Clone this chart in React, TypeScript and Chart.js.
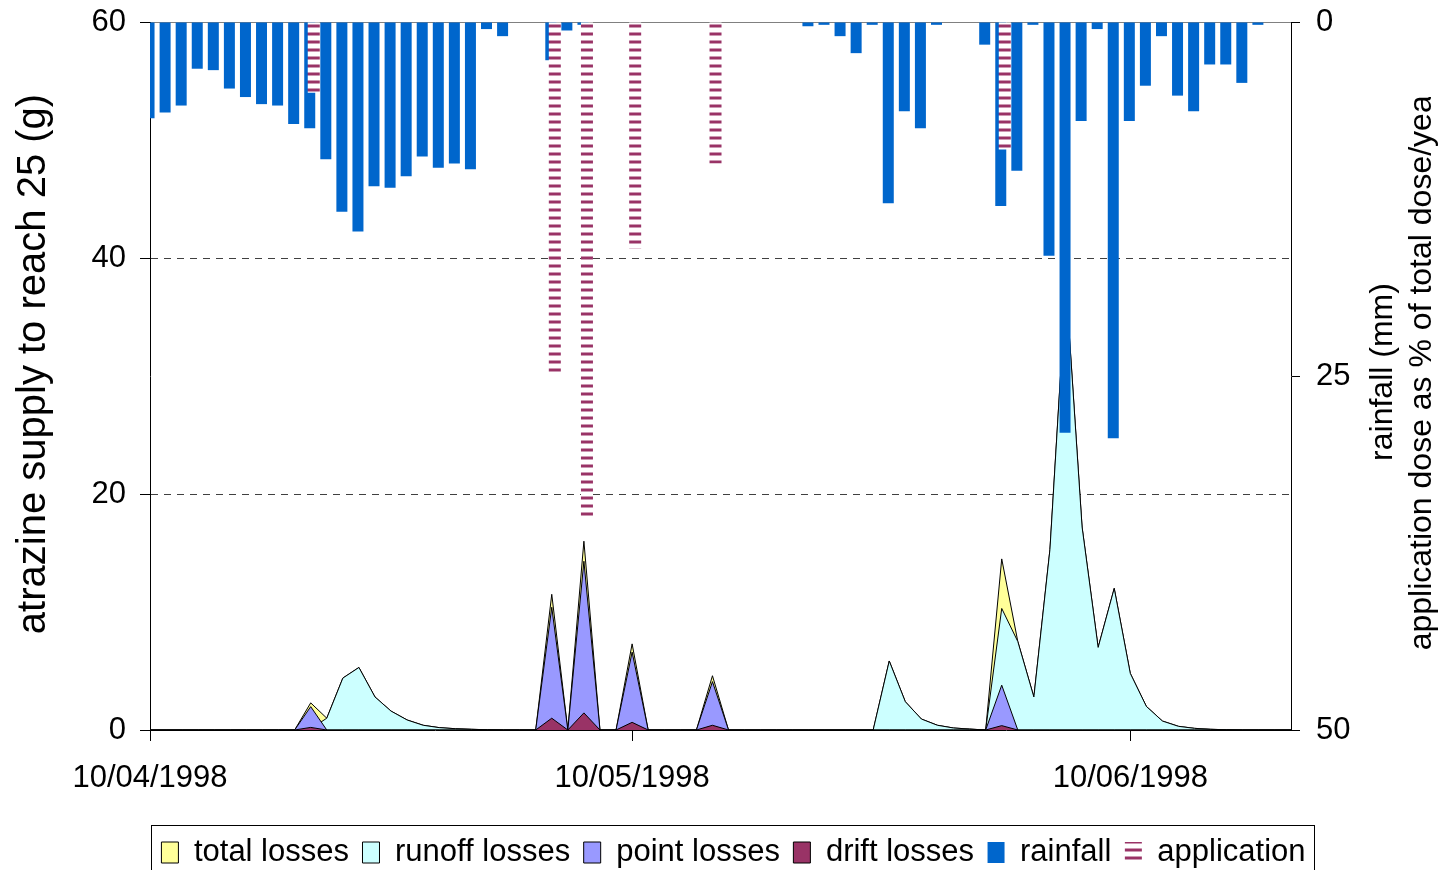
import { useEffect, useRef } from 'react';
import { Chart, registerables } from 'chart.js';

Chart.register(...registerables);

const FONT = "'Liberation Sans', Arial, Helvetica, sans-serif";

// Day index from 10/04/1998 (one point per day)
const days = Array.from({ length: 72 }, (_, i) => i);
const xTickDays = [0, 30, 61];
const xTickLabels = ['10/04/1998', '10/05/1998', '10/06/1998'];

const leftTitle = 'atrazine supply to reach 25 (g)';
const rightTitle = ['rainfall (mm)', 'application dose as % of total dose/year'];
const seriesNames = ['total losses', 'runoff losses', 'point losses', 'drift losses', 'rainfall', 'application'];

// g
const totalLosses = [
  0, 0, 0, 0, 0, 0, 0, 0, 0, 0,
  2.3, 1.0, 4.4, 5.3, 2.8, 1.6, 0.85, 0.4, 0.2, 0.11,
  0.06, 0.02, 0, 0, 0, 11.5, 0, 16.0, 0, 0,
  7.3, 0, 0, 0, 0, 4.6, 0, 0, 0, 0,
  0, 0, 0, 0, 0, 0, 5.85, 2.4, 0.93, 0.4,
  0.17, 0.08, 0, 14.5, 7.5, 2.8, 15.3, 37.7, 17.2, 7.0,
  12.0, 4.8, 2.0, 0.76, 0.31, 0.14, 0.06, 0.02, 0, 0,
  0, 0,
];
const runoffLosses = [
  0, 0, 0, 0, 0, 0, 0, 0, 0, 0,
  0.1, 1.0, 4.4, 5.3, 2.8, 1.6, 0.85, 0.4, 0.2, 0.11,
  0.06, 0.02, 0, 0, 0, 0, 0, 0, 0, 0,
  0, 0, 0, 0, 0, 0, 0, 0, 0, 0,
  0, 0, 0, 0, 0, 0, 5.85, 2.4, 0.93, 0.4,
  0.17, 0.08, 0, 10.3, 7.5, 2.8, 15.3, 37.7, 17.2, 7.0,
  12.0, 4.8, 2.0, 0.76, 0.31, 0.14, 0.06, 0.02, 0, 0,
  0, 0,
];
const pointLosses = [
  0, 0, 0, 0, 0, 0, 0, 0, 0, 0,
  1.98, 0, 0, 0, 0, 0, 0, 0, 0, 0,
  0, 0, 0, 0, 0, 10.4, 0, 14.3, 0, 0,
  6.6, 0, 0, 0, 0, 4.1, 0, 0, 0, 0,
  0, 0, 0, 0, 0, 0, 0, 0, 0, 0,
  0, 0, 0, 3.8, 0, 0, 0, 0, 0, 0,
  0, 0, 0, 0, 0, 0, 0, 0, 0, 0,
  0, 0,
];
const driftLosses = [
  0, 0, 0, 0, 0, 0, 0, 0, 0, 0,
  0.22, 0, 0, 0, 0, 0, 0, 0, 0, 0,
  0, 0, 0, 0, 0, 1.0, 0, 1.45, 0, 0,
  0.65, 0, 0, 0, 0, 0.4, 0, 0, 0, 0,
  0, 0, 0, 0, 0, 0, 0, 0, 0, 0,
  0, 0, 0, 0.37, 0, 0, 0, 0, 0, 0,
  0, 0, 0, 0, 0, 0, 0, 0, 0, 0,
  0, 0,
];
// mm
const rainfall = [
  6.8, 6.4, 5.9, 3.3, 3.4, 4.7, 5.3, 5.8, 5.9, 7.2,
  7.5, 9.7, 13.4, 14.8, 11.6, 11.7, 10.9, 9.5, 10.3, 10.0,
  10.4, 0.5, 1.0, 0, 0, 2.7, 0.6, 0.2, 0, 0,
  0, 0, 0, 0, 0, 0, 0, 0, 0, 0,
  0, 0.3, 0.2, 1.0, 2.2, 0.2, 12.8, 6.3, 7.5, 0.2,
  0, 0, 1.6, 13.0, 10.5, 0.2, 16.5, 29.0, 7.0, 0.5,
  29.4, 7.0, 4.5, 1.0, 5.2, 6.3, 3.0, 3.0, 4.3, 0.2,
  0, 0,
];
// % of total dose / year
const application = [
  0, 0, 0, 0, 0, 0, 0, 0, 0, 0,
  5, 0, 0, 0, 0, 0, 0, 0, 0, 0,
  0, 0, 0, 0, 0, 25, 0, 35, 0, 0,
  16, 0, 0, 0, 0, 10, 0, 0, 0, 0,
  0, 0, 0, 0, 0, 0, 0, 0, 0, 0,
  0, 0, 0, 9, 0, 0, 0, 0, 0, 0,
  0, 0, 0, 0, 0, 0, 0, 0, 0, 0,
  0, 0,
];

function makeStripePattern(ctx: CanvasRenderingContext2D): CanvasPattern | string {
  const c = document.createElement('canvas');
  c.width = 12;
  c.height = 8;
  const p = c.getContext('2d');
  if (!p) return '#993366';
  p.fillStyle = '#ffffff';
  p.fillRect(0, 0, 12, 8);
  p.fillStyle = '#cc99b3';
  p.fillRect(0, 0, 12, 1);
  p.fillRect(0, 3, 12, 1);
  p.fillStyle = '#993366';
  p.fillRect(0, 1, 12, 2);
  return ctx.createPattern(c, 'repeat') || '#993366';
}

const decorPlugin = {
  id: 'decor',
  afterLayout(chart: any) {
    const lg = chart.legend;
    if (lg) {
      lg.top += 8;
      lg.bottom += 8;
      lg.left += 12;
      lg.right += 12;
    }
  },
  afterDraw(chart: any) {
    const ctx: CanvasRenderingContext2D = chart.ctx;
    const lg = chart.legend;
    const hb = lg && lg.legendHitBoxes;
    if (hb && hb.length) {
      const first = hb[0];
      const last = hb[hb.length - 1];
      const l = Math.round(first.left - 10) + 0.5;
      const r = Math.round(last.left + last.width + 8) + 0.5;
      const t = Math.round(first.top - 12) + 0.5;
      ctx.save();
      ctx.strokeStyle = '#000';
      ctx.lineWidth = 1;
      ctx.strokeRect(l, t, r - l, chart.height - t + 10);
      ctx.restore();
    }
    const yl = chart.scales.y;
    const s = chart.scales.y2;
    const cy = (s.top + s.bottom) / 2;
    ctx.save();
    ctx.fillStyle = '#000';
    ctx.textAlign = 'center';
    ctx.textBaseline = 'middle';
    // left axis title
    ctx.save();
    ctx.font = `40px ${FONT}`;
    ctx.translate(yl.left + 34, cy - 12);
    ctx.rotate(-Math.PI / 2);
    ctx.fillText(leftTitle, 0, 0);
    ctx.restore();
    // right axis title (two lines)
    ctx.font = `32px ${FONT}`;
    ctx.save();
    ctx.translate(s.right - 60, cy - 4);
    ctx.rotate(-Math.PI / 2);
    ctx.fillText(rightTitle[0], 0, 0);
    ctx.restore();
    ctx.save();
    ctx.beginPath();
    ctx.rect(s.right - 45, s.top + 75, 45, s.bottom);
    ctx.clip();
    ctx.translate(s.right - 21, cy - 8.5);
    ctx.rotate(-Math.PI / 2);
    ctx.fillText(rightTitle[1], 0, 0);
    ctx.restore();
    ctx.restore();
  },
};

export default function App() {
  const ref = useRef<HTMLCanvasElement | null>(null);

  useEffect(() => {
    const canvas = ref.current;
    if (!canvas) return;
    const ctx = canvas.getContext('2d');
    if (!ctx) return;
    const stripes = makeStripePattern(ctx);
    const tickFont = { family: FONT, size: 31 };

    const areaDs = (label: string, data: number[], color: string, order: number) => ({
      type: 'line' as const,
      label,
      data,
      xAxisID: 'x',
      yAxisID: 'y',
      backgroundColor: color,
      borderColor: '#000000',
      borderWidth: 1,
      pointRadius: 0,
      pointHoverRadius: 0,
      tension: 0,
      fill: 'origin',
      order,
    });

    const fixVPadding = (scale: any, width: number) => {
      scale.width = width;
      scale.paddingTop = 18;
      scale.paddingBottom = 18;
    };

    const chart = new Chart(ctx, {
      type: 'bar',
      data: {
        labels: days,
        datasets: [
          areaDs(seriesNames[0], totalLosses, '#FFFF99', 5),
          areaDs(seriesNames[1], runoffLosses, '#CCFFFF', 4),
          areaDs(seriesNames[2], pointLosses, '#9999FF', 3),
          areaDs(seriesNames[3], driftLosses, '#993366', 2),
          {
            type: 'bar' as const,
            label: seriesNames[4],
            data: rainfall,
            xAxisID: 'xRain',
            yAxisID: 'y2',
            backgroundColor: '#0066CC',
            borderWidth: 0,
            barThickness: 11,
            grouped: false,
            inflateAmount: 0,
            order: 1,
          },
          {
            type: 'bar' as const,
            label: seriesNames[5],
            data: application,
            xAxisID: 'xApp',
            yAxisID: 'y2',
            backgroundColor: stripes,
            borderWidth: 0,
            barThickness: 12,
            grouped: false,
            inflateAmount: 0,
            order: 0,
          },
        ] as any,
      },
      options: {
        animation: false,
        responsive: true,
        maintainAspectRatio: false,
        devicePixelRatio: 1,
        layout: { padding: { left: 0, right: 0, top: 22, bottom: 0 } },
        plugins: {
          tooltip: { enabled: false },
          title: { display: false },
          legend: {
            display: true,
            position: 'bottom',
            labels: {
              font: { family: FONT, size: 31 },
              color: '#000',
              boxWidth: 17,
              boxHeight: 21,
              padding: 13.5,
              sort: (a: any, b: any) => a.datasetIndex - b.datasetIndex,
            },
          },
        },
        scales: {
          x: {
            type: 'linear',
            position: 'bottom',
            min: 0,
            max: 71,
            offset: false,
            afterBuildTicks: (scale: any) => {
              scale.ticks = xTickDays.map((v) => ({ value: v }));
            },
            afterFit: (scale: any) => {
              scale.height = 85.5;
            },
            ticks: {
              autoSkip: false,
              maxRotation: 0,
              minRotation: 0,
              padding: 19,
              color: '#000',
              font: tickFont,
              callback: (value: any) => {
                const i = xTickDays.indexOf(Number(value));
                return i >= 0 ? xTickLabels[i] : '';
              },
            },
            grid: {
              offset: false,
              drawOnChartArea: false,
              drawTicks: true,
              tickLength: 11,
              tickColor: '#000',
            },
            border: { color: '#000', width: 1 },
          },
          xTop: {
            type: 'linear',
            position: 'top',
            min: 0,
            max: 71,
            offset: false,
            afterFit: (scale: any) => {
              scale.height = 0;
            },
            ticks: { display: false },
            grid: { display: false, offset: false },
            border: { color: '#808080', width: 1 },
          },
          xRain: {
            type: 'linear',
            display: false,
            offset: false,
            grid: { offset: false },
            min: 0.06,
            max: 71.06,
          },
          xApp: {
            type: 'linear',
            display: false,
            offset: false,
            grid: { offset: false },
            min: -0.19,
            max: 70.81,
          },
          y: {
            type: 'linear',
            position: 'left',
            min: 0,
            max: 60,
            afterFit: (scale: any) => fixVPadding(scale, 150),
            ticks: {
              stepSize: 20,
              padding: 14,
              color: '#000',
              font: tickFont,
            },
            grid: {
              color: (c: any) =>
                c.tick && (c.tick.value === 20 || c.tick.value === 40) ? '#404040' : 'rgba(0,0,0,0)',
              tickColor: '#000',
              tickLength: 10,
              lineWidth: 1,
            },
            border: { color: '#000', width: 1, dash: [7, 6] },
          },
          y2: {
            type: 'linear',
            position: 'right',
            reverse: true,
            min: 0,
            max: 50,
            afterFit: (scale: any) => fixVPadding(scale, 152),
            ticks: {
              stepSize: 25,
              padding: 16,
              color: '#000',
              font: tickFont,
            },
            grid: {
              drawOnChartArea: false,
              drawTicks: true,
              tickLength: 9,
              tickColor: '#000',
            },
            border: { color: '#000', width: 1 },
          },
        },
      } as any,
      plugins: [decorPlugin],
    });

    return () => {
      chart.destroy();
    };
  }, []);

  return (
    <div style={{ position: 'fixed', left: 0, top: 0, width: 1443, height: 870, background: '#fff' }}>
      <canvas ref={ref} />
    </div>
  );
}
